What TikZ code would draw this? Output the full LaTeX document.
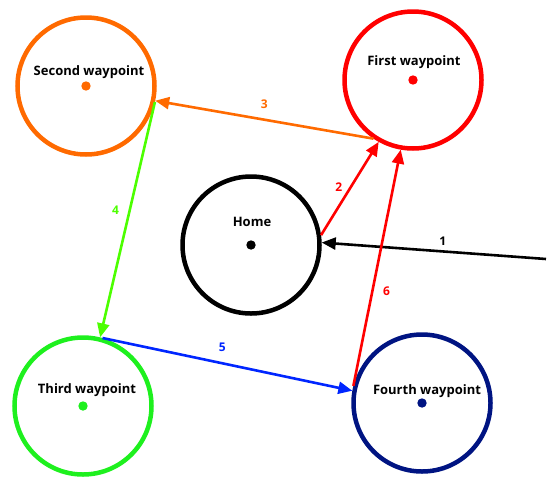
\documentclass[tikz,border=0pt]{standalone}
\usepackage{fontspec}
\setmainfont{Open Sans}
\usetikzlibrary{arrows.meta}

\definecolor{wporange}{RGB}{255,106,0}
\definecolor{wpgreen}{RGB}{30,240,30}
\definecolor{wplime}{RGB}{76,255,0}
\definecolor{wpblue}{RGB}{0,38,255}
\definecolor{wpnavy}{RGB}{0,20,130}

\tikzset{
  waypoint/.style={circle, draw=#1, line width=4.5pt, minimum size=137pt, inner sep=0pt},
  wplabel/.style={anchor=base, inner sep=0pt, font=\bfseries\fontsize{13}{15}\selectfont},
  leg/.style={draw=#1, line width=2.6pt, -{Triangle[length=14pt,width=12pt]}},
  legnum/.style={inner sep=3pt, text=#1, font=\bfseries\fontsize{12}{14}\selectfont},
}

\begin{document}
\begin{tikzpicture}[x=1pt,y=-1pt]
\useasboundingbox (0,0) rectangle (548,493);

% waypoints
\node[waypoint=wporange] (second) at (86,86) {};
\node[waypoint=red] (first) at (413,80) {};
\node[waypoint=black] (home) at (251,245) {};
\node[waypoint=wpgreen] (third) at (83,406) {};
\node[waypoint=wpnavy] (fourth) at (422,403) {};

\fill[wporange] (second) circle (4.7);
\fill[red] (first) circle (4.7);
\fill[black] (home) circle (4.7);
\fill[wpgreen] (third) circle (4.7);
\fill[wpnavy] (fourth) circle (4.7);

\node[wplabel] (second-lbl) at (89,75) {Second waypoint};
\node[wplabel] (first-lbl) at (414,65) {First waypoint};
\node[wplabel] (home-lbl) at (252,226) {Home};
\node[wplabel] (third-lbl) at (87,393) {Third waypoint};
\node[wplabel] (fourth-lbl) at (427,394) {Fourth waypoint};

% route
\coordinate (entry) at (546,259);
\draw[leg=black] (entry) -- node[legnum=black, pos=0.46, above=1.5pt] {1} (home.2);
\draw[leg=red] (home.8) -- node[legnum=red, pos=0.52, left=4.5pt] {2} (first.-119);
\draw[leg=wporange] (first.236) -- node[legnum=wporange, pos=0.5, above=7pt] {3} (second.-12);
\draw[leg=wplime] (second.-13) -- node[legnum=wplime, pos=0.46, left=6.5pt] {4} (third.76);
\draw[leg=wpblue] (third.74) -- node[legnum=wpblue, pos=0.48, above=7pt] {5} (fourth.170);
\draw[leg=red] (fourth.166) -- node[legnum=red, pos=0.4, right=6.5pt] {6} (first.-100);
\end{tikzpicture}
\end{document}
